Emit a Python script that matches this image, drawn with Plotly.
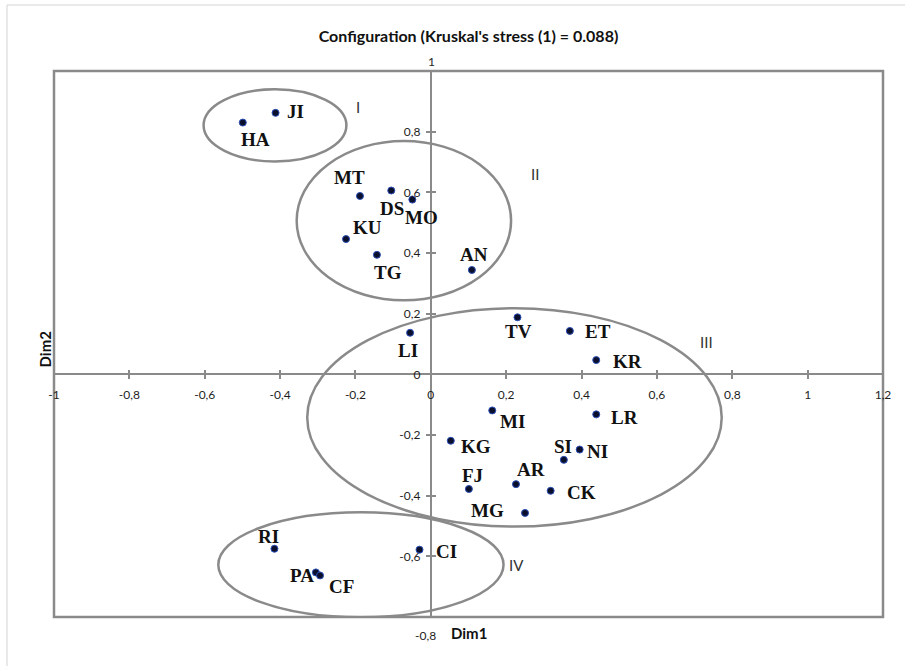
import plotly.graph_objects as go

# MDS configuration: point codes and their coordinates on the two dimensions
codes = ["JI", "HA", "MT", "DS", "MO", "KU", "TG", "AN",
         "LI", "TV", "ET", "KR", "MI", "LR", "KG", "SI", "NI",
         "AR", "FJ", "CK", "MG", "RI", "CI", "PA", "CF"]
dim1 = [-0.412, -0.499, -0.188, -0.105, -0.049, -0.225, -0.143, 0.109,
        -0.055, 0.230, 0.369, 0.439, 0.163, 0.439, 0.053, 0.353, 0.395,
        0.226, 0.101, 0.318, 0.250, -0.415, -0.030, -0.305, -0.294]
dim2 = [0.862, 0.830, 0.588, 0.606, 0.576, 0.446, 0.394, 0.344,
        0.137, 0.188, 0.143, 0.047, -0.119, -0.132, -0.219, -0.282, -0.248,
        -0.362, -0.378, -0.384, -0.457, -0.575, -0.578, -0.653, -0.663]

# Cluster groupings drawn as ellipses (x0, x1, y0, y1 in data units)
cluster_names = ["I", "II", "III", "IV"]
cluster_x0 = [-0.603, -0.356, -0.328, -0.564]
cluster_x1 = [-0.224, 0.213, 0.772, 0.193]
cluster_y0 = [0.702, 0.244, -0.502, -0.801]
cluster_y1 = [0.940, 0.769, 0.218, -0.455]

# Axis ticks
x_tick_vals = [-1, -0.8, -0.6, -0.4, -0.2, 0, 0.2, 0.4, 0.6, 0.8, 1, 1.2]
x_tick_text = ["-1", "-0,8", "-0,6", "-0,4", "-0,2", "0", "0,2", "0,4", "0,6", "0,8", "1", "1,2"]
y_tick_vals = [-0.6, -0.4, -0.2, 0, 0.2, 0.4, 0.6, 0.8]
y_tick_text = ["-0,6", "-0,4", "-0,2", "0", "0,2", "0,4", "0,6", "0,8"]
y_end_vals = [1, -0.8]
y_end_text = ["1", "-0,8"]

title_text = "Configuration (Kruskal's stress (1) = 0.088)"

# Label placement around each point (pixels; dy positive = downwards)
label_offsets = {
    "JI": (20, -1), "HA": (13, 17), "MT": (-10, -18), "DS": (1, 18),
    "MO": (9, 18), "KU": (21, -12), "TG": (11, 18), "AN": (2, -15),
    "LI": (-2, 18), "TV": (1, 14), "ET": (28, 1), "KR": (31, 1),
    "MI": (20, 11), "LR": (28, 3), "KG": (25, 6), "SI": (-1, -13),
    "NI": (18, 2), "AR": (15, -15), "FJ": (4, -13), "CK": (31, 2),
    "MG": (-38, -2), "RI": (-6, -12), "CI": (27, 2), "PA": (-14, 3),
    "CF": (21, 11),
}
cluster_label_pos = [(-0.193, 0.880), (0.277, 0.659), (0.732, 0.108), (0.228, -0.627)]

GRAY = "#8a8a8a"
SANS = "Lato, Carlito, Arial, sans-serif"
TICK_FONT = dict(family=SANS, size=12, color="#1e1e1e")
LABEL_FONT = dict(family="Liberation Serif, Times New Roman, serif", size=19,
                  color="#111111", weight="bold")

X_RANGE = [-1, 1.2]
Y_RANGE = [-0.8, 1]
x_cross = (0 - Y_RANGE[0]) / (Y_RANGE[1] - Y_RANGE[0])
y_cross = (0 - X_RANGE[0]) / (X_RANGE[1] - X_RANGE[0])

fig = go.Figure()

fig.add_trace(go.Scatter(
    x=dim1, y=dim2, mode="markers",
    marker=dict(size=7, color="#0a0f2c", line=dict(color="#2b4fb8", width=1)),
    hovertext=codes, hoverinfo="text", showlegend=False,
))
# empty trace that carries the inward-facing tick marks
fig.add_trace(go.Scatter(x=[], y=[], xaxis="x2", yaxis="y2", showlegend=False))

shapes = []
# plot frame
shapes.append(dict(type="rect", xref="paper", yref="paper", x0=0, x1=1, y0=0, y1=1,
                   line=dict(color=GRAY, width=2.5), layer="below"))
# outer page border (top and left visible)
shapes.append(dict(type="rect", xref="paper", yref="paper",
                   x0=-0.0567, x1=1.07, y0=-0.13, y1=1.1209,
                   line=dict(color="#d4d4d4", width=1), layer="below"))
for x0, x1, y0, y1 in zip(cluster_x0, cluster_x1, cluster_y0, cluster_y1):
    shapes.append(dict(type="circle", xref="x", yref="y", x0=x0, x1=x1, y0=y0, y1=y1,
                       line=dict(color=GRAY, width=2.5), layer="above"))

annotations = []
for code, xv, yv in zip(codes, dim1, dim2):
    dx, dy = label_offsets[code]
    annotations.append(dict(x=xv, y=yv, xref="x", yref="y", text=code, showarrow=False,
                            xanchor="center", yanchor="middle", xshift=dx, yshift=-dy,
                            font=LABEL_FONT))
for name, (cx, cy) in zip(cluster_names, cluster_label_pos):
    annotations.append(dict(x=cx, y=cy, xref="x", yref="y", text=name, showarrow=False,
                            xanchor="center", yanchor="middle",
                            font=dict(family=SANS, size=15, color="#333333")))
# end labels of the vertical axis
annotations.append(dict(x=0, y=y_end_vals[0], xref="x", yref="y", text=y_end_text[0],
                        showarrow=False, xanchor="center", yanchor="middle",
                        xshift=1, yshift=10, font=TICK_FONT))
annotations.append(dict(x=0, y=y_end_vals[1], xref="x", yref="y", text=y_end_text[1],
                        showarrow=False, xanchor="center", yanchor="middle",
                        xshift=-5, yshift=-18, font=TICK_FONT))
# axis titles
annotations.append(dict(x=0.501, y=0, xref="paper", yref="paper", text="<b>Dim1</b>",
                        showarrow=False, xanchor="center", yanchor="middle", yshift=-16,
                        font=dict(family=SANS, size=15, color="#111111")))
annotations.append(dict(x=0, y=0.49, xref="paper", yref="paper", text="<b>Dim2</b>",
                        showarrow=False, xanchor="center", yanchor="middle", xshift=-9,
                        textangle=-90,
                        font=dict(family=SANS, size=15, color="#111111")))

common_axis = dict(showgrid=False, zeroline=False, anchor="free")

fig.update_layout(
    width=905, height=666,
    margin=dict(l=54, r=22, t=71, b=49),
    paper_bgcolor="white", plot_bgcolor="white",
    separators=",.",
    title=dict(text=title_text, x=0.5, xref="paper", y=0.945, yanchor="middle",
               font=dict(family=SANS, size=16, color="#111111", weight="bold")),
    xaxis=dict(range=X_RANGE, position=x_cross, tickvals=x_tick_vals, ticktext=x_tick_text,
               showline=True, linecolor=GRAY, linewidth=2, ticks="outside", ticklen=4,
               tickwidth=2, tickcolor=GRAY, tickfont=TICK_FONT, ticklabelstandoff=5,
               **common_axis),
    yaxis=dict(range=Y_RANGE, position=y_cross, tickvals=y_tick_vals, ticktext=y_tick_text,
               showline=True, linecolor=GRAY, linewidth=2, ticks="outside", ticklen=4,
               tickwidth=2, tickcolor=GRAY, tickfont=TICK_FONT, ticklabelstandoff=3,
               **common_axis),
    xaxis2=dict(range=X_RANGE, overlaying="x", position=x_cross, tickvals=x_tick_vals,
                showticklabels=False, showline=False, ticks="inside", ticklen=4,
                tickwidth=2, tickcolor=GRAY, **common_axis),
    yaxis2=dict(range=Y_RANGE, overlaying="y", position=y_cross, tickvals=y_tick_vals,
                showticklabels=False, showline=False, ticks="inside", ticklen=4,
                tickwidth=2, tickcolor=GRAY, **common_axis),
    shapes=shapes,
    annotations=annotations,
    showlegend=False,
)

fig.write_html("out.html")
